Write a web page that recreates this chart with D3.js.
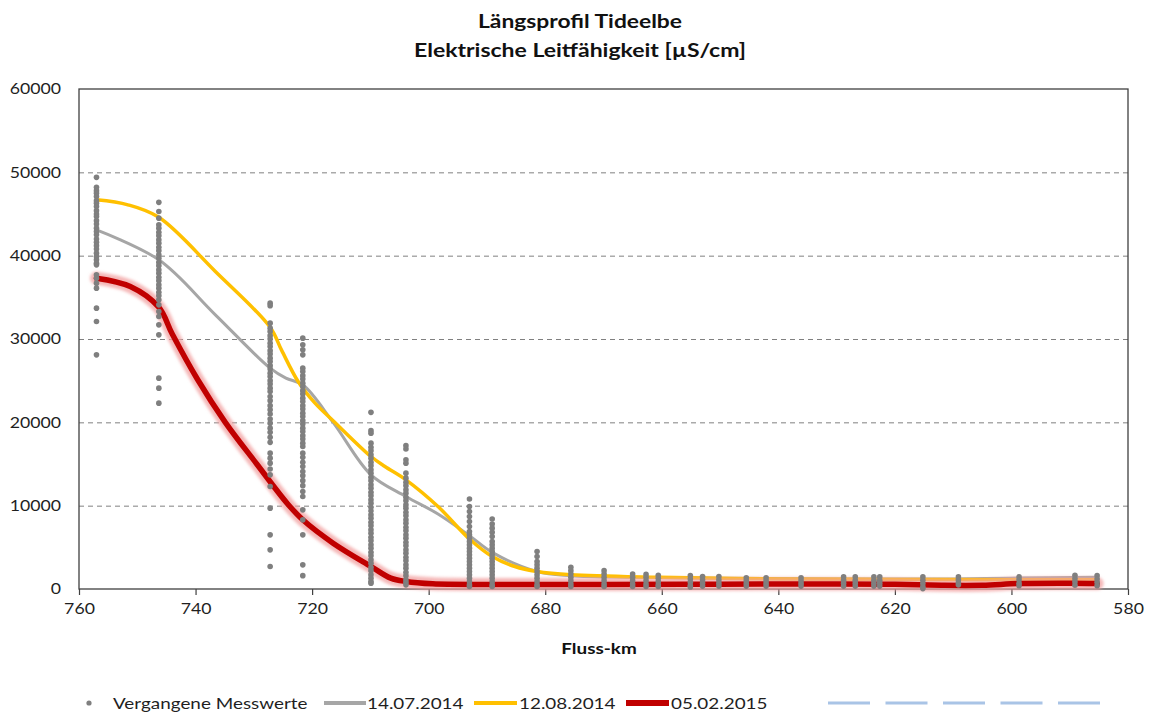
<!DOCTYPE html>
<html><head><meta charset="utf-8">
<script src="https://cdn.jsdelivr.net/npm/d3@7"></script>
<style>html,body{margin:0;padding:0;background:#fff;} svg{display:block;font-family:Lato,"Open Sans",sans-serif;}</style>
</head><body><svg id="c" width="1154" height="713"></svg>
<script>
// ---- data ----
const titleLines = ["Längsprofil Tideelbe", "Elektrische Leitfähigkeit [µS/cm]"];
const xTicks = [760, 740, 720, 700, 680, 660, 640, 620, 600, 580];
const yTicks = [0, 10000, 20000, 30000, 40000, 50000, 60000];
const xTitle = "Fluss-km";
const legendLabels = ["Vergangene Messwerte", "14.07.2014", "12.08.2014", "05.02.2015"];

const stationKm = [757.0, 746.3, 727.2, 721.6, 709.9, 703.9, 693.0, 689.1, 681.4, 675.6, 669.9, 665.0, 662.7, 660.6,
  655.1, 653.0, 650.2, 645.5, 642.1, 636.1, 628.8, 626.8, 623.6, 622.6, 615.2, 609.1, 598.7, 589.1, 585.3];
const pastValues = [
  [49400, 48200, 47800, 47500, 47100, 46600, 46300, 45900, 45400, 45000, 44700, 44200, 43800, 43300, 42900, 42500, 42000, 41600, 41200, 40800, 40300, 39900, 39500, 39100, 38900, 37700, 37300, 36700, 36100, 33700, 32100, 28100],
  [46400, 45300, 44500, 43700, 43300, 42800, 42400, 41900, 41500, 41000, 40600, 40100, 39700, 39200, 38800, 38300, 37900, 37400, 37000, 36500, 36100, 35600, 35200, 34700, 34100, 33300, 32700, 31700, 30500, 25300, 24100, 22300],
  [34300, 34000, 31900, 31300, 30900, 30400, 30000, 29500, 29100, 28600, 28200, 27700, 27300, 26800, 26400, 25900, 25500, 25000, 24600, 24100, 23700, 23100, 22600, 22000, 21500, 21000, 20400, 19900, 19300, 18800, 18200, 17600, 16300, 15700, 15100, 14400, 13700, 12300, 9700, 6500, 4700, 2700],
  [30100, 29300, 28700, 28100, 26500, 26100, 25600, 25200, 24700, 24300, 23800, 23400, 22900, 22500, 22000, 21600, 21100, 20700, 20200, 19800, 19300, 18900, 18400, 18000, 17500, 17100, 16300, 15800, 15200, 14700, 14100, 13600, 13000, 12400, 11700, 11100, 9500, 8300, 6500, 2900, 1600],
  [21200, 19000, 18700, 17500, 17000, 16600, 16100, 15700, 15200, 14800, 14300, 13900, 13400, 13000, 12500, 12100, 11600, 11200, 10700, 10300, 9800, 9400, 8900, 8500, 8000, 7600, 7100, 6700, 6200, 5800, 5300, 4900, 4400, 4000, 3500, 3100, 2600, 2200, 1700, 1300, 900, 700],
  [17200, 16800, 15500, 15100, 13900, 13300, 12800, 12400, 11900, 11500, 11000, 10600, 10100, 9700, 9200, 8800, 8300, 7900, 7400, 7000, 6500, 6100, 5600, 5200, 4700, 4300, 3800, 3400, 2900, 2500, 2000, 1600, 1100, 800, 500],
  [10800, 9900, 9300, 8700, 8100, 7500, 6900, 6500, 6100, 5700, 5300, 4900, 4500, 4100, 3700, 3300, 2900, 2500, 2100, 1700, 1300, 900, 500, 300],
  [8400, 7800, 7300, 6800, 6300, 5700, 5300, 4900, 4500, 4100, 3700, 3300, 2900, 2500, 2100, 1700, 1300, 900, 500, 300],
  [4500, 3900, 3300, 2900, 2500, 2100, 1700, 1300, 900, 500, 300],
  [2600, 2200, 1800, 1400, 1000, 600, 300],
  [2200, 1800, 1400, 1000, 600, 300],
  [1800, 1400, 1000, 600, 300],
  [1750, 1400, 1000, 600, 300],
  [1650, 1300, 900, 500, 300],
  [1600, 1200, 800, 400, 250],
  [1500, 1100, 700, 350],
  [1500, 1100, 700, 350],
  [1350, 1000, 650, 350],
  [1350, 1000, 650, 350],
  [1350, 1000, 650, 350],
  [1450, 1050, 700, 350],
  [1450, 1050, 700, 350],
  [1450, 1050, 700, 350],
  [1450, 1050, 700, 350],
  [1450, 1050, 650, 250, 50],
  [1450, 1100, 750, 500],
  [1450, 1100, 700, 400],
  [1650, 1250, 850, 450],
  [1600, 1200, 800, 400]
];

const grayKm  = [757.0, 746.3, 736.6, 727.2, 724.5, 721.6, 716.4, 709.9, 703.9, 698.4, 693.0, 689.1, 681.4, 675.6, 665, 650, 630, 610, 600, 585.3];
const grayVal = [43100, 39500, 32900, 26500, 25300, 24500, 20000, 13700, 11100, 9000, 6400, 4400, 2100, 1600, 1400, 1300, 1200, 1200, 1300, 1400];

const yellowKm  = [757.0, 751.6, 746.3, 736.6, 727.2, 725.2, 722.4, 719.5, 716.4, 709.9, 707.5, 703.9, 698.4, 693.0, 689.1, 685.2, 681.4, 675.6, 660.6, 640, 620, 600, 585.3];
const yellowVal = [46700, 46100, 44600, 38100, 31400, 28600, 24900, 22300, 20200, 15900, 14700, 13100, 9900, 6000, 3900, 2700, 2100, 1700, 1400, 1200, 1150, 1100, 1100];

const redKm  = [757.0, 751.2, 746.3, 744.0, 739.7, 734.9, 729.5, 724.3, 721.6, 716.4, 709.9, 706.5, 703.9, 699.3, 690, 670, 650, 630, 620, 612, 605, 598.7, 590, 585.3];
const redVal = [37300, 36300, 33800, 30600, 25200, 20000, 15000, 10300, 8300, 5500, 2700, 1300, 900, 620, 540, 550, 580, 600, 560, 450, 450, 650, 700, 650];

// ---- layout ----
const plot = {left: 79, right: 1128, top: 89, bottom: 589};
const SX = 1.18; // horizontal stretch of the original text
const textColor = "#1f1f1f";
const titleWidths = [204, 332];

const svg = d3.select("#c");
const x = d3.scaleLinear().domain([760, 580]).range([plot.left, plot.right]);
const y = d3.scaleLinear().domain([0, 60000]).range([plot.bottom, plot.top]);

function stretch(sel) {
  sel.each(function () {
    const l = this.getComputedTextLength();
    d3.select(this).attr("textLength", l * SX).attr("lengthAdjust", "spacingAndGlyphs");
  });
}

// title
svg.selectAll("text.title").data(titleLines).join("text")
  .attr("class", "title")
  .attr("x", 580).attr("y", (d, i) => 28 + i * 29)
  .attr("text-anchor", "middle")
  .attr("font-size", 18).attr("font-weight", "bold").attr("fill", "#111")
  .attr("textLength", (d, i) => titleWidths[i]).attr("lengthAdjust", "spacingAndGlyphs")
  .text(d => d);

// gridlines
svg.append("g").attr("transform", `translate(${plot.left},0)`)
  .call(d3.axisLeft(y).tickValues(yTicks.filter(v => v > 0 && v < 60000)).tickSize(-(plot.right - plot.left)).tickFormat(""))
  .call(g => g.select(".domain").remove())
  .call(g => g.selectAll("line").attr("stroke", "#808080").attr("stroke-dasharray", "5,4").attr("stroke-width", 1));

// y axis labels
const yAx = svg.append("g").attr("transform", `translate(${plot.left},0)`)
  .call(d3.axisLeft(y).tickValues(yTicks).tickSize(0).tickPadding(18).tickFormat(d3.format("d")));
yAx.select(".domain").remove();
yAx.selectAll("text").attr("font-size", 15).attr("fill", textColor).attr("font-family", "Lato").call(stretch);

// x axis
const xAx = svg.append("g").attr("transform", `translate(0,${plot.bottom})`)
  .call(d3.axisBottom(x).tickValues(xTicks).tickSize(6).tickPadding(8).tickFormat(d3.format("d")));
xAx.select(".domain").remove();
xAx.selectAll("line").attr("stroke", "#404040").attr("stroke-width", 1.2);
xAx.selectAll("text").attr("font-size", 15).attr("fill", textColor).attr("font-family", "Lato").call(stretch);

// frame
svg.append("rect").attr("x", plot.left).attr("y", plot.top)
  .attr("width", plot.right - plot.left).attr("height", plot.bottom - plot.top)
  .attr("fill", "none").attr("stroke", "#404040").attr("stroke-width", 1.3);

// x title
svg.append("text").attr("x", 599).attr("y", 654).attr("text-anchor", "middle")
  .attr("font-size", 16).attr("font-weight", "bold").attr("fill", "#111")
  .text(xTitle).call(stretch);

// glow filter
const defs = svg.append("defs");
defs.append("filter").attr("id", "glow").attr("x", "-10%").attr("y", "-10%").attr("width", "120%").attr("height", "120%")
  .append("feGaussianBlur").attr("stdDeviation", 1.8);

const line = d3.line().x(d => x(d[0])).y(d => y(d[1])).curve(d3.curveCatmullRom.alpha(0.5));
const zip = (a, b) => a.map((v, i) => [v, b[i]]);

svg.append("path").datum(zip(grayKm, grayVal)).attr("d", line)
  .attr("fill", "none").attr("stroke", "#a6a6a6").attr("stroke-width", 3);
svg.append("path").datum(zip(yellowKm, yellowVal)).attr("d", line)
  .attr("fill", "none").attr("stroke", "#ffc000").attr("stroke-width", 3.5);
svg.append("path").datum(zip(redKm, redVal)).attr("d", line)
  .attr("fill", "none").attr("stroke", "#f2a0a0").attr("stroke-width", 13).attr("stroke-opacity", 0.75)
  .attr("filter", "url(#glow)").attr("stroke-linecap", "round");
svg.append("path").datum(zip(redKm, redVal)).attr("d", line)
  .attr("fill", "none").attr("stroke", "#c00000").attr("stroke-width", 5.5).attr("stroke-linecap", "round");

// scatter of past values
const pts = [];
stationKm.forEach((km, i) => pastValues[i].forEach(v => pts.push([km, v])));
svg.append("g").selectAll("circle").data(pts).join("circle")
  .attr("cx", d => x(d[0])).attr("cy", d => y(d[1])).attr("r", 2.8).attr("fill", "#7f7f7f");

// legend
const lg = svg.append("g").attr("font-size", 16).attr("fill", textColor);
const ly = 703;
lg.append("circle").attr("cx", 89).attr("cy", ly).attr("r", 2.6).attr("fill", "#7f7f7f");
const legendItems = [
  {x0: 113, line: null},
  {x0: 367, line: [324, 366, "#a6a6a6", 4]},
  {x0: 519, line: [474, 517, "#ffc000", 4]},
  {x0: 671, line: [626, 669, "#c00000", 6]}
];
legendItems.forEach((it, i) => {
  if (it.line) lg.append("line").attr("x1", it.line[0]).attr("x2", it.line[1]).attr("y1", ly).attr("y2", ly)
    .attr("stroke", it.line[2]).attr("stroke-width", it.line[3]);
  lg.append("text").attr("x", it.x0).attr("y", ly + 5.5).text(legendLabels[i]).call(stretch);
});
lg.append("line").attr("x1", 828).attr("x2", 1100).attr("y1", ly).attr("y2", ly)
  .attr("stroke", "#a9c4e6").attr("stroke-width", 3).attr("stroke-dasharray", "42,15.5");
</script></body></html>
